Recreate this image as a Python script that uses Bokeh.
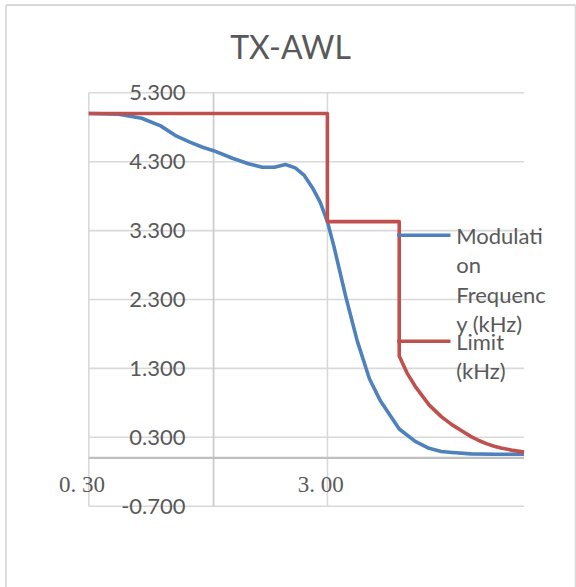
import math
from bokeh.plotting import figure
from bokeh.models import Range1d, Label, LabelSet, ColumnDataSource, Arrow
from bokeh.core.properties import value
from bokeh.embed import file_html
from bokeh.resources import INLINE

# ---------------- data ----------------
title_text = "TX-AWL"

mod_freq_x = [0.3, 0.4, 0.5, 0.6, 0.7, 0.8, 0.9, 1.0, 1.2, 1.4, 1.6, 1.8, 2.0, 2.2,
              2.4, 2.6, 2.8, 3.0, 3.2, 3.6, 4.0, 4.5, 5.0, 6.0, 7.0, 8.0, 9.0, 10.0,
              12.0, 15.0, 20.0]
mod_freq_y = [5.00, 4.99, 4.93, 4.82, 4.67, 4.58, 4.51, 4.46, 4.35, 4.27, 4.22, 4.22,
              4.26, 4.21, 4.10, 3.92, 3.71, 3.43, 3.06, 2.31, 1.70, 1.15, 0.83, 0.42,
              0.24, 0.14, 0.095, 0.08, 0.06, 0.055, 0.055]

limit_x = [0.3, 3.0, 3.0, 6.0, 6.0, 6.5, 7.0, 8.0, 9.0, 10.0, 11.0, 12.0, 13.0, 14.0,
           15.0, 16.0, 18.0, 20.0]
limit_y = [5.0, 5.0, 3.43, 3.43, 1.48, 1.22, 1.04, 0.77, 0.60, 0.48, 0.39, 0.31,
           0.25, 0.205, 0.17, 0.145, 0.11, 0.085]

series_names = ["Modulation Frequency (kHz)", "Limit (kHz)"]
legend_lines = [["Modulati", "on", "Frequenc", "y (kHz)"], ["Limit", "(kHz)"]]

x_min, x_max = 0.3, 20.0
y_min, y_max = -0.7, 5.3
y_ticks = [-0.7, 0.3, 1.3, 2.3, 3.3, 4.3, 5.3]
y_tick_labels = ["-0.700", "0.300", "1.300", "2.300", "3.300", "4.300", "5.300"]
x_ticks = [0.3, 3.0]
x_tick_labels = ["0. 30", "3. 00"]
y_axis_crosses_at = 1.0
x_axis_crosses_at = 0.0

# ---------------- layout (canvas pixels) ----------------
W, H = 576, 587
PAGE = 0                      # observed offset of the canvas on the page
PL, PT, PR, PB = 88.3, 92.3, 523.5, 505.7   # plot area in page px

BLUE = "#4f81bd"
RED = "#c0504d"
GRID = "#d9d9d9"
TEXT = "#595959"
SANS = "Lato"


def sx(page_x):
    return page_x - PAGE


def sy(page_y):
    return H - (page_y - PAGE)


# ranges so that the plot area lands at PL..PR / PT..PB while the frame fills the canvas
dec_px = (PR - PL) / math.log10(x_max / x_min)
xr0 = x_min * 10 ** (-sx(PL) / dec_px)
xr1 = x_max * 10 ** ((W - sx(PR)) / dec_px)
unit_px = (PB - PT) / (y_max - y_min)
yr1 = y_max + (PT - PAGE) / unit_px
yr0 = y_min - (H - (PB - PAGE)) / unit_px

p = figure(width=W, height=H, x_axis_type="log",
           x_range=Range1d(xr0, xr1), y_range=Range1d(yr0, yr1),
           x_axis_location=None, y_axis_location=None,
           toolbar_location=None, output_backend="svg",
           min_border=0)
p.outline_line_color = None
p.background_fill_color = "white"
p.border_fill_color = "white"
p.xgrid.visible = False
p.ygrid.visible = False

# chart border (light frame around the chart)
BL, BT, BR = 5.5, 4.5, 575.0
for (x0, y0, x1, y1) in [(BL, BT, BR, BT), (BL, BT, BL, H + 5), (BR, BT, BR, H + 5)]:
    p.add_layout(Arrow(x_start=sx(x0), y_start=sy(y0), x_end=sx(x1), y_end=sy(y1),
                       start_units="screen", end_units="screen", end=None,
                       line_color="#d9d9d9", line_width=1.8, level="underlay"))

# gridlines
p.segment(x0=[x_min] * len(y_ticks), x1=[x_max] * len(y_ticks), y0=y_ticks, y1=y_ticks,
          line_color=GRID, line_width=1.6, level="underlay")
p.segment(x0=x_ticks, x1=x_ticks, y0=[y_min] * len(x_ticks), y1=[y_max] * len(x_ticks),
          line_color=GRID, line_width=1.6, level="underlay")
# axis lines
p.segment(x0=[y_axis_crosses_at], x1=[y_axis_crosses_at], y0=[y_min], y1=[y_max],
          line_color="#cccccc", line_width=1.8, level="underlay")
p.segment(x0=[x_min], x1=[x_max], y0=[x_axis_crosses_at], y1=[x_axis_crosses_at],
          line_color="#bfbfbf", line_width=2.2, level="underlay")

# series
p.line(mod_freq_x, mod_freq_y, line_color=BLUE, line_width=3.6, line_join="round")
p.line(limit_x, limit_y, line_color=RED, line_width=3.6, line_join="round")

# y tick labels
ysrc = ColumnDataSource(dict(x=[y_axis_crosses_at] * len(y_ticks), y=y_ticks, text=y_tick_labels))
p.add_layout(LabelSet(x="x", y="y", text="text", source=ysrc, x_offset=-28, y_offset=0,
                      text_align="right", text_baseline="middle",
                      text_font=value(SANS), text_font_size="22px", text_color=TEXT))
# x tick labels
xsrc = ColumnDataSource(dict(x=x_ticks, y=[x_axis_crosses_at] * len(x_ticks), text=x_tick_labels))
p.add_layout(LabelSet(x="x", y="y", text="text", source=xsrc, x_offset=-6.7, y_offset=-26.5,
                      text_align="center", text_baseline="middle",
                      text_font=value("Liberation Serif"), text_font_size="23px",
                      text_color=TEXT))

# title
p.add_layout(Label(x=sx(290), y=sy(45.7), x_units="screen", y_units="screen", text=title_text,
                   text_align="center", text_baseline="middle",
                   text_font=SANS, text_font_size="32px", text_color=TEXT))

# legend
legend_page_y = [234.7, 340.7]
for color, ly, lines in zip([BLUE, RED], legend_page_y, legend_lines):
    p.add_layout(Arrow(x_start=sx(396.7), y_start=sy(ly), x_end=sx(450), y_end=sy(ly),
                       start_units="screen", end_units="screen", end=None,
                       line_color=color, line_width=3.6))
    for k, s in enumerate(lines):
        p.add_layout(Label(x=sx(455.7), y=sy(ly + 29.5 * k), x_units="screen",
                           y_units="screen", text=s, text_align="left",
                           text_baseline="middle", text_font=SANS,
                           text_font_size="22px", text_color=TEXT))

open("out.html", "w").write(file_html(p, INLINE))
